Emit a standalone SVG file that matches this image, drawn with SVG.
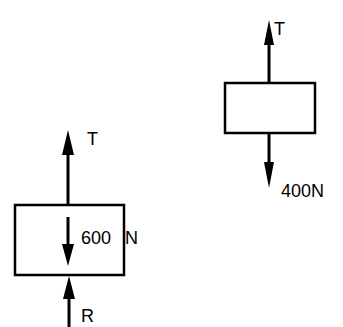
<svg xmlns="http://www.w3.org/2000/svg" width="343" height="327" viewBox="0 0 343 327">
<style>
.box{fill:none;stroke:#000;stroke-width:2.5}
.shaft{stroke:#000;stroke-width:3;fill:none}
.head{fill:#000}
.lbl{font-family:"Liberation Sans",Arial,sans-serif;font-size:18px;fill:#000}
</style>
<rect width="343" height="327" fill="#fff"/>
<g id="box-left"><rect class="box" x="15" y="205" width="109" height="70"/></g>
<g id="box-right"><rect class="box" x="225" y="83" width="90" height="50"/></g>
<g id="connectors">
  <line class="shaft" x1="68" y1="205" x2="68" y2="150"/>
  <polygon class="head" points="68,130 62,155 74,155"/>
  <line class="shaft" x1="68" y1="217" x2="68" y2="250"/>
  <polygon class="head" points="68,266 62,244 74,244"/>
  <line class="shaft" x1="69" y1="327" x2="69" y2="295"/>
  <polygon class="head" points="69,276 63,299 75,299"/>
  <line class="shaft" x1="269" y1="83" x2="269" y2="40"/>
  <polygon class="head" points="269,20 264,45 274,45"/>
  <line class="shaft" x1="269" y1="133" x2="269" y2="168"/>
  <polygon class="head" points="269,188 264,162 274,162"/>
</g>
<g id="labels">
  <text class="lbl" x="87" y="145" font-size="20">T</text>
  <text class="lbl" x="81" y="244" font-size="16">600</text>
  <text class="lbl" x="125" y="244" font-size="16">N</text>
  <text class="lbl" x="81" y="322" font-size="17">R</text>
  <text class="lbl" x="274" y="35" font-size="20">T</text>
  <text class="lbl" x="281" y="197" font-size="17">400N</text>
</g>
</svg>
